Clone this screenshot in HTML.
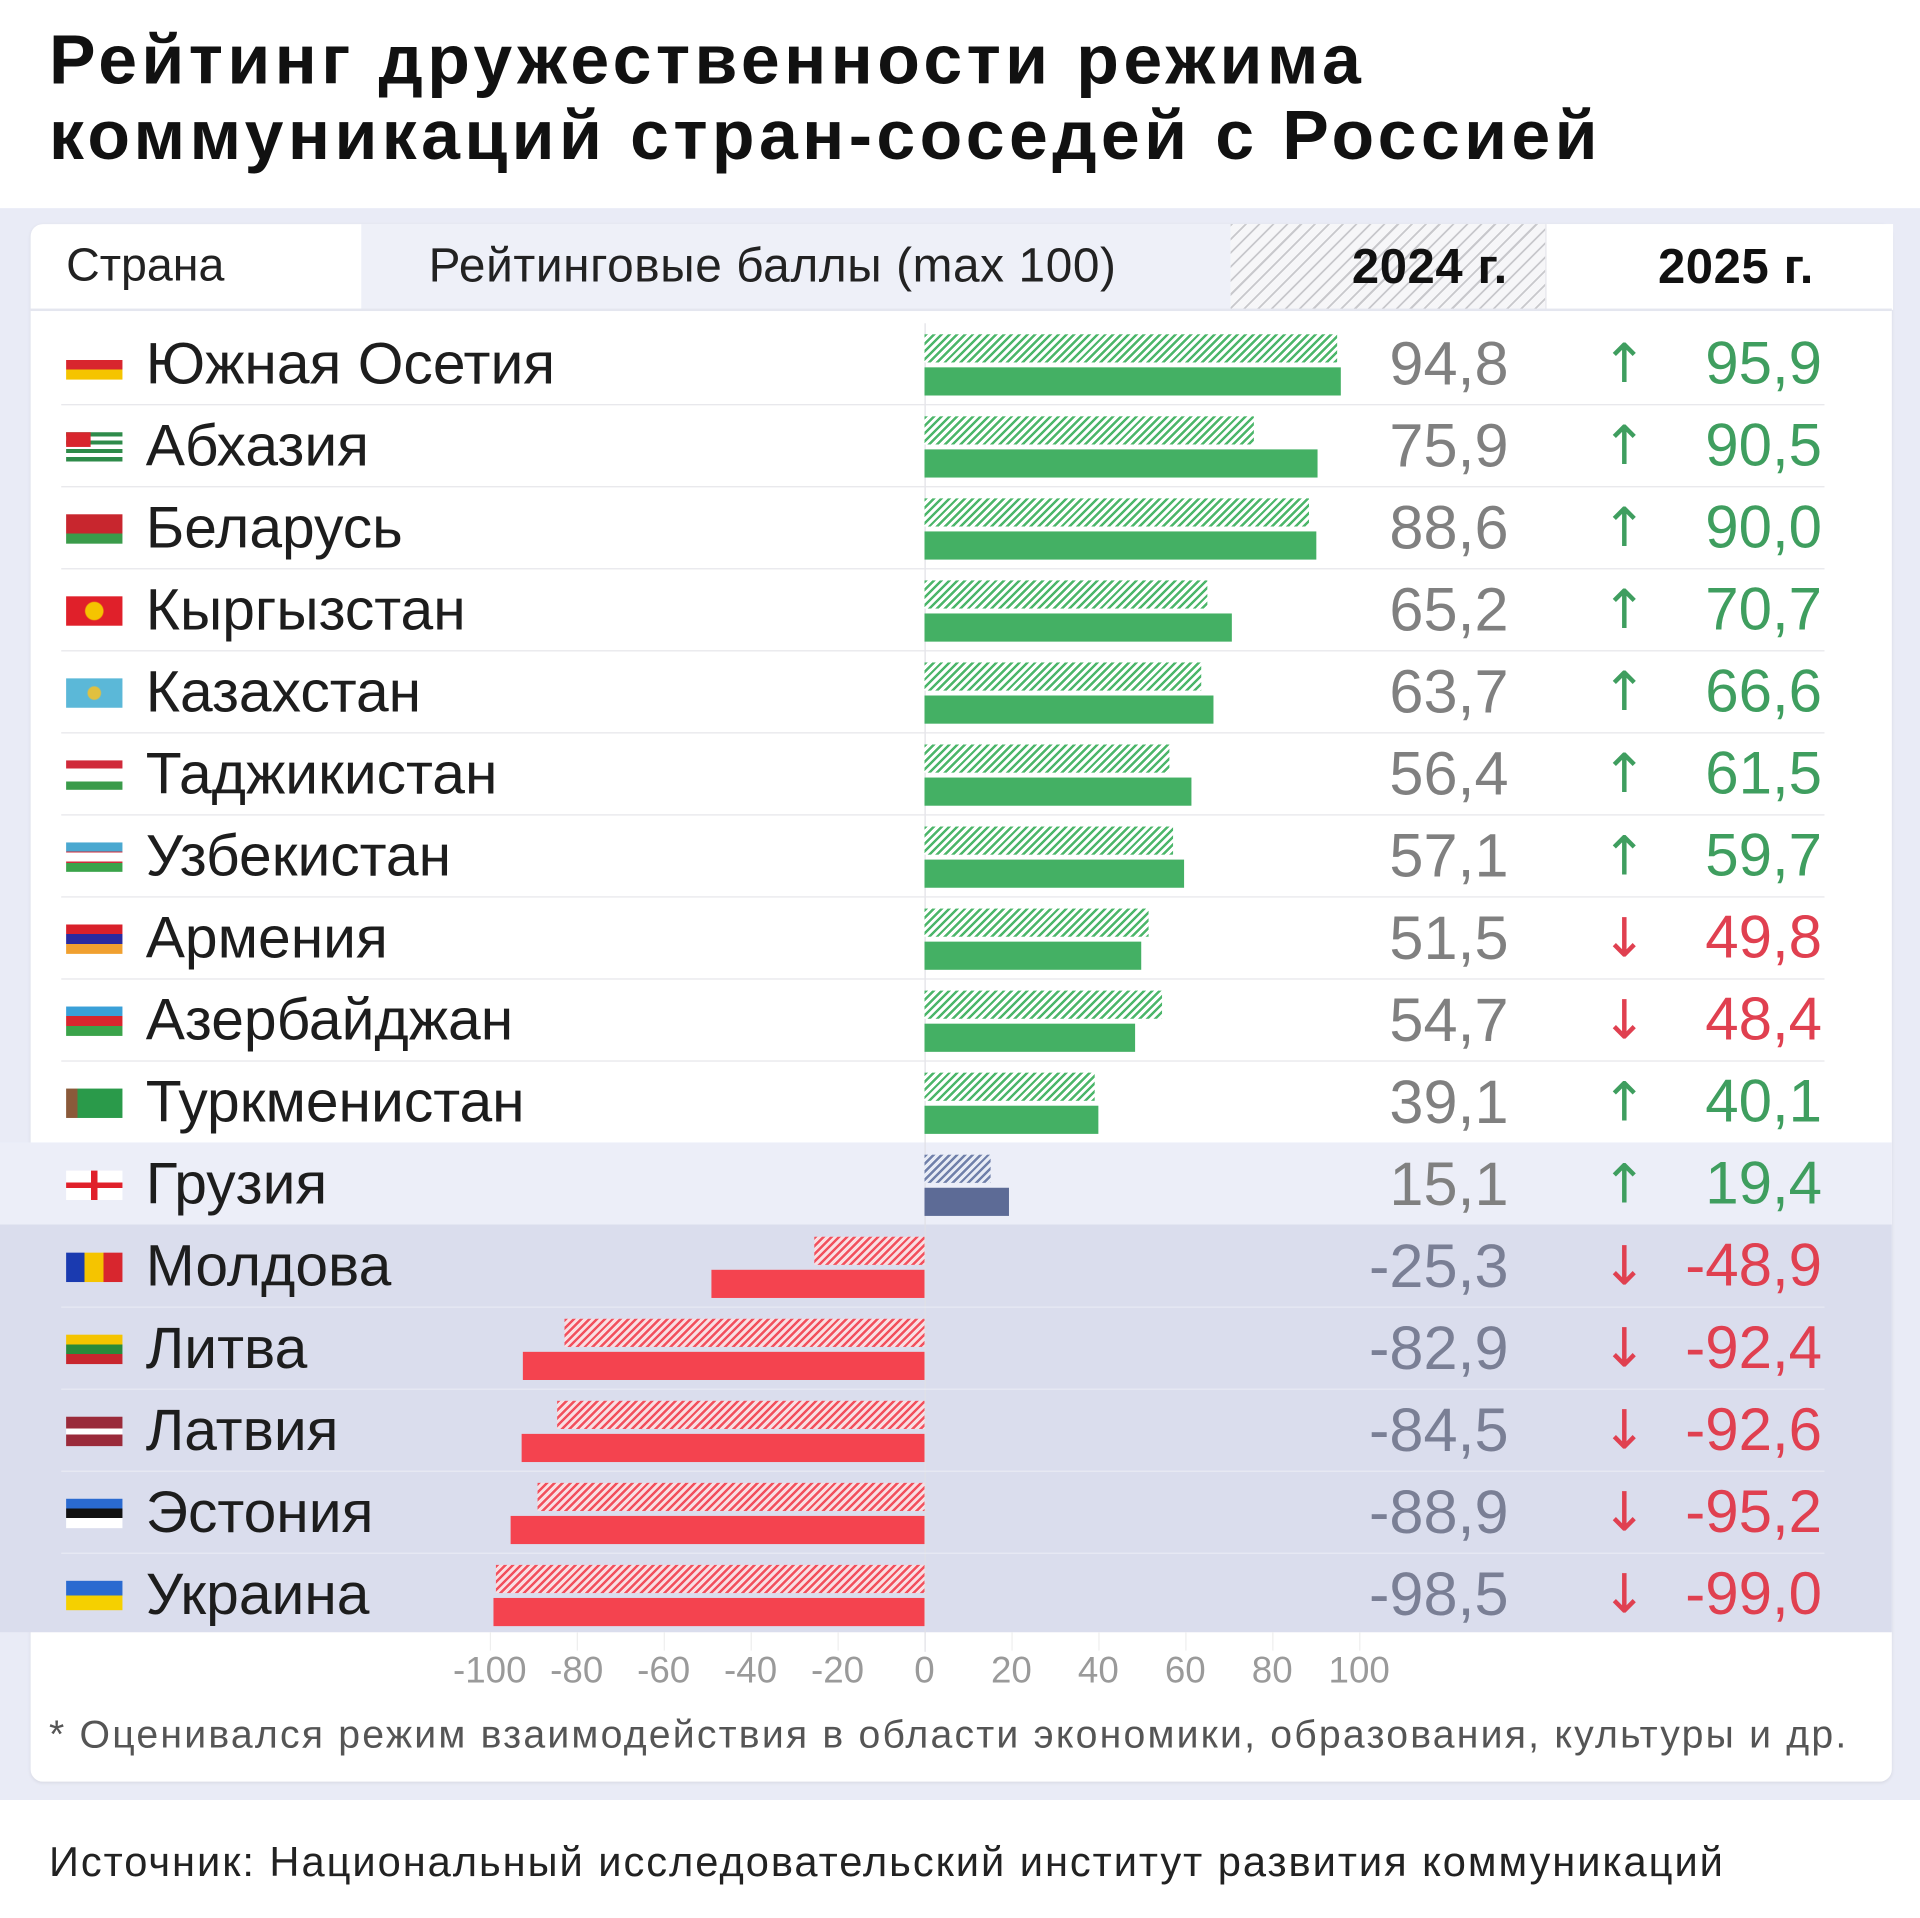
<!DOCTYPE html>
<html><head><meta charset="utf-8">
<style>
html,body{margin:0;padding:0;background:#fff;width:1920px;height:1917px;overflow:hidden}
#w{position:absolute;left:0;top:0;width:1568px;height:1566px;transform:scale(1.22449);transform-origin:0 0;font-family:"Liberation Sans","DejaVu Sans",sans-serif}
.ab{position:absolute}
.t{left:40px;font-size:57px;font-weight:bold;color:#111;letter-spacing:3.6px;white-space:nowrap}
.r{position:absolute;left:0;width:1568px;height:67px}
.f{position:absolute;left:54px;top:22px;width:46px;height:24px}
.n{position:absolute;left:119px;top:0;line-height:67px;font-size:48px;color:#1d1d1d;white-space:nowrap}
.h{position:absolute;top:9px;height:23px}
.s{position:absolute;top:36px;height:23px}
.g.h{background:repeating-linear-gradient(135deg,#4cb66a 0 2px,#fff 2px 4.5px)}
.g.s{background:#44b064}
.d.h{background:repeating-linear-gradient(135deg,#f2505d 0 2px,#f9dfe3 2px 4.5px)}
.d.s{background:#f4434f}
.p{left:755px}
.m{right:813px}
.a{position:absolute;right:336px;line-height:67px;font-size:50px;color:#808080}
.ar{position:absolute;left:1308px;line-height:67px;font-size:44px;font-family:"DejaVu Sans",sans-serif}
.b{position:absolute;right:80px;line-height:67px;font-size:49px}
.up{color:#3f9e5f}.dn{color:#e04050}
.ln{position:absolute;left:50px;width:1440px;bottom:0;height:1px;background:#e6e6ea}
.tk{position:absolute;top:1348px;font-size:30px;color:#9a9a9a;width:70px;margin-left:-35px;text-align:center}
.gl{position:absolute;top:1333px;height:15px;width:1px;background:#eee}
</style></head><body><div id="w">
<div class="ab t" style="top:16px">Рейтинг дружественности режима</div>
<div class="ab t" style="top:78px">коммуникаций стран-соседей с Россией</div>

<div class="ab" style="left:0;top:170px;width:1568px;height:1300px;background:#e9ebf6"></div>
<div class="ab" style="left:25px;top:183px;width:1520px;height:1272px;background:#fff;border-radius:10px;box-shadow:0 1px 3px rgba(0,0,0,0.08)"></div>
<div class="ab" style="left:295px;top:183px;width:710px;height:70px;background:#eef0f8"></div>
<div class="ab" style="left:1005px;top:183px;width:257px;height:70px;background:repeating-linear-gradient(135deg,#c8c8cc 0 1.5px,#f6f6f8 1.5px 8px)"></div>
<div class="ab" style="left:1262px;top:183px;width:283px;height:70px;background:#fff;border-left:1px solid #e4e4ea"></div>
<div class="ab" style="left:25px;top:252px;width:1520px;height:2px;background:#e4e6ef"></div>
<div class="ab" style="left:54px;top:196px;font-size:38px;color:#222">Страна</div>
<div class="ab" style="left:350px;top:196px;font-size:39px;color:#222;letter-spacing:0.5px">Рейтинговые баллы (max 100)</div>
<div class="ab" style="left:1104px;top:196px;font-size:40px;color:#111;font-weight:bold;letter-spacing:0.5px">2024 г.</div>
<div class="ab" style="left:1354px;top:196px;font-size:40px;color:#111;font-weight:bold;letter-spacing:0.5px">2025 г.</div>

<div class="ab" style="left:0;top:933px;width:1545px;height:67px;background:#eceef8"></div>
<div class="ab" style="left:0;top:1000px;width:1545px;height:333px;background:#dadded"></div>
<div class="ab" style="left:755px;top:264px;width:1px;height:1085px;background:#e0e0e6"></div>

<div class="r" style="top:264px"><div class="ln"></div><div class="f" style="background:linear-gradient(#fff 0 33%,#d8262e 33% 66%,#f5c400 66%)"></div><div class="n">Южная Осетия</div><div class="h g p" style="width:337px"></div><div class="s g p" style="width:340px"></div><div class="a">94,8</div><div class="ar up">↑</div><div class="b up">95,9</div></div>
<div class="r" style="top:331px"><div class="ln"></div><div class="f" style="background:repeating-linear-gradient(#2e8b4a 0 3.4px,#fff 3.4px 6.8px)"><div style="width:20px;height:12px;background:#d8262e"></div></div><div class="n">Абхазия</div><div class="h g p" style="width:269px"></div><div class="s g p" style="width:321px"></div><div class="a">75,9</div><div class="ar up">↑</div><div class="b up">90,5</div></div>
<div class="r" style="top:398px"><div class="ln"></div><div class="f" style="background:linear-gradient(#c8262e 0 66%,#3a9b4a 66%)"></div><div class="n">Беларусь</div><div class="h g p" style="width:314px"></div><div class="s g p" style="width:320px"></div><div class="a">88,6</div><div class="ar up">↑</div><div class="b up">90,0</div></div>
<div class="r" style="top:465px"><div class="ln"></div><div class="f" style="background:radial-gradient(circle,#f5c400 0 7px,#e0202a 8px)"></div><div class="n">Кыргызстан</div><div class="h g p" style="width:231px"></div><div class="s g p" style="width:251px"></div><div class="a">65,2</div><div class="ar up">↑</div><div class="b up">70,7</div></div>
<div class="r" style="top:532px"><div class="ln"></div><div class="f" style="background:radial-gradient(circle,#e0c040 0 5px,#5bb8d8 6px)"></div><div class="n">Казахстан</div><div class="h g p" style="width:226px"></div><div class="s g p" style="width:236px"></div><div class="a">63,7</div><div class="ar up">↑</div><div class="b up">66,6</div></div>
<div class="r" style="top:599px"><div class="ln"></div><div class="f" style="background:linear-gradient(#d02a3a 0 28%,#fff 28% 72%,#3a9b4a 72%)"></div><div class="n">Таджикистан</div><div class="h g p" style="width:200px"></div><div class="s g p" style="width:218px"></div><div class="a">56,4</div><div class="ar up">↑</div><div class="b up">61,5</div></div>
<div class="r" style="top:666px"><div class="ln"></div><div class="f" style="background:linear-gradient(#4aa8d0 0 30%,#d02a3a 30% 35%,#fff 35% 65%,#d02a3a 65% 70%,#3aa34a 70%)"></div><div class="n">Узбекистан</div><div class="h g p" style="width:203px"></div><div class="s g p" style="width:212px"></div><div class="a">57,1</div><div class="ar up">↑</div><div class="b up">59,7</div></div>
<div class="r" style="top:733px"><div class="ln"></div><div class="f" style="background:linear-gradient(#d9202a 0 33%,#2a2aa0 33% 66%,#f0a030 66%)"></div><div class="n">Армения</div><div class="h g p" style="width:183px"></div><div class="s g p" style="width:177px"></div><div class="a">51,5</div><div class="ar dn">↓</div><div class="b dn">49,8</div></div>
<div class="r" style="top:800px"><div class="ln"></div><div class="f" style="background:linear-gradient(#3aa0d8 0 33%,#d8262e 33% 66%,#3aa34a 66%)"></div><div class="n">Азербайджан</div><div class="h g p" style="width:194px"></div><div class="s g p" style="width:172px"></div><div class="a">54,7</div><div class="ar dn">↓</div><div class="b dn">48,4</div></div>
<div class="r" style="top:867px"><div class="f" style="background:linear-gradient(90deg,#8a5a3a 0 20%,#2a9a4a 20%)"></div><div class="n">Туркменистан</div><div class="h g p" style="width:139px"></div><div class="s g p" style="width:142px"></div><div class="a">39,1</div><div class="ar up">↑</div><div class="b up">40,1</div></div>
<div class="r" style="top:934px"><div class="f" style="background:linear-gradient(90deg,transparent 44%,#e0202a 44% 56%,transparent 56%),linear-gradient(transparent 40%,#e0202a 40% 60%,transparent 60%),#fff"></div><div class="n">Грузия</div><div class="h p" style="width:54px;background:repeating-linear-gradient(135deg,#7080aa 0 2px,#e8ecf6 2px 4.5px)"></div><div class="s p" style="width:69px;background:#5d6b96"></div><div class="a">15,1</div><div class="ar up">↑</div><div class="b up">19,4</div></div>
<div class="r" style="top:1001px"><div class="ln" style="background:#e8eaf4"></div><div class="f" style="background:linear-gradient(90deg,#1a3ab0 0 33%,#f5c400 33% 66%,#d8262e 66%)"></div><div class="n">Молдова</div><div class="h d m" style="width:90px"></div><div class="s d m" style="width:174px"></div><div class="a" style="color:#7a7f95">-25,3</div><div class="ar dn">↓</div><div class="b dn">-48,9</div></div>
<div class="r" style="top:1068px"><div class="ln" style="background:#e8eaf4"></div><div class="f" style="background:linear-gradient(#f5c400 0 33%,#2a8a3a 33% 66%,#c8262e 66%)"></div><div class="n">Литва</div><div class="h d m" style="width:294px"></div><div class="s d m" style="width:328px"></div><div class="a" style="color:#7a7f95">-82,9</div><div class="ar dn">↓</div><div class="b dn">-92,4</div></div>
<div class="r" style="top:1135px"><div class="ln" style="background:#e8eaf4"></div><div class="f" style="background:linear-gradient(#9a2a3a 0 40%,#fff 40% 60%,#9a2a3a 60%)"></div><div class="n">Латвия</div><div class="h d m" style="width:300px"></div><div class="s d m" style="width:329px"></div><div class="a" style="color:#7a7f95">-84,5</div><div class="ar dn">↓</div><div class="b dn">-92,6</div></div>
<div class="r" style="top:1202px"><div class="ln" style="background:#e8eaf4"></div><div class="f" style="background:linear-gradient(#2a6ad0 0 33%,#111 33% 66%,#fff 66%)"></div><div class="n">Эстония</div><div class="h d m" style="width:316px"></div><div class="s d m" style="width:338px"></div><div class="a" style="color:#7a7f95">-88,9</div><div class="ar dn">↓</div><div class="b dn">-95,2</div></div>
<div class="r" style="top:1269px"><div class="f" style="background:linear-gradient(#2a6ad0 0 50%,#f5d000 50%)"></div><div class="n">Украина</div><div class="h d m" style="width:350px"></div><div class="s d m" style="width:352px"></div><div class="a" style="color:#7a7f95">-98,5</div><div class="ar dn">↓</div><div class="b dn">-99,0</div></div>

<div class="gl" style="left:400px"></div><div class="gl" style="left:471px"></div><div class="gl" style="left:542px"></div><div class="gl" style="left:613px"></div><div class="gl" style="left:684px"></div><div class="gl" style="left:826px"></div><div class="gl" style="left:897px"></div><div class="gl" style="left:968px"></div><div class="gl" style="left:1039px"></div><div class="gl" style="left:1110px"></div>
<div class="tk" style="left:400px">-100</div><div class="tk" style="left:471px">-80</div><div class="tk" style="left:542px">-60</div><div class="tk" style="left:613px">-40</div><div class="tk" style="left:684px">-20</div><div class="tk" style="left:755px">0</div><div class="tk" style="left:826px">20</div><div class="tk" style="left:897px">40</div><div class="tk" style="left:968px">60</div><div class="tk" style="left:1039px">80</div><div class="tk" style="left:1110px">100</div>

<div class="ab" style="left:40px;top:1398px;font-size:32px;color:#555;white-space:nowrap;letter-spacing:1.8px">* Оценивался режим взаимодействия в области экономики, образования, культуры и др.</div>
<div class="ab" style="left:40px;top:1502px;font-size:34px;color:#222;white-space:nowrap;letter-spacing:1.6px">Источник: Национальный исследовательский институт развития коммуникаций</div>
</div></body></html>
